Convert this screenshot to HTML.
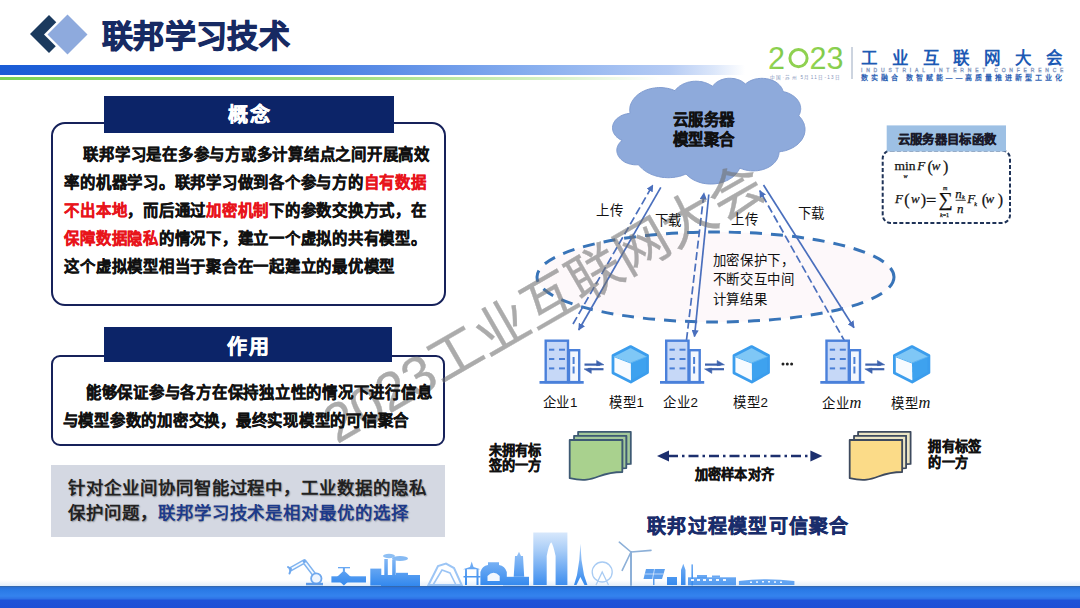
<!DOCTYPE html>
<html lang="zh-CN">
<head>
<meta charset="utf-8">
<style>
*{margin:0;padding:0;box-sizing:border-box}
html,body{width:1080px;height:608px;overflow:hidden;background:#fff}
body{position:relative;font-family:"Liberation Sans",sans-serif;color:#111}
.a{position:absolute}
.title,.txt,.gtxt,.lbl,.blbl{z-index:10}
.title{left:102px;top:17px;letter-spacing:0.35px;font-size:31px;font-weight:900;color:#172a63;-webkit-text-stroke:1px #172a63;line-height:40px;white-space:nowrap}
.bluebar{left:0;top:65px;width:760px;height:9.5px;background:linear-gradient(90deg,#1a5cd6 0%,#2a68dc 25%,#5a8ce6 50%,#8ab0ef 71%,#b5cbf4 88%,#dce7fa 94%,rgba(255,255,255,0) 98%)}
.greenbar{left:0;top:77px;width:680px;height:3px;background:linear-gradient(90deg,#7ad356 0%,#9ede7c 50%,#d8f2c8 82%,rgba(255,255,255,0) 97%)}
.hdr{background:#0c2468;color:#fff;font-weight:700;-webkit-text-stroke:0.5px #fff;text-align:center;font-size:20px;letter-spacing:1.2px;text-indent:1.2px}
.box{border:2.3px solid #16215a;border-radius:14px;background:#fff}
.txt{font-size:15.4px;letter-spacing:0.75px;font-weight:700;-webkit-text-stroke:0.35px currentColor;line-height:28px;color:#111;white-space:nowrap}
.red{color:#e8141b;-webkit-text-stroke-color:#e8141b}
.gray{left:51px;top:465px;width:394px;height:72px;background:#d4d8e2}
.gtxt{font-size:17.4px;letter-spacing:0.95px;font-weight:700;text-shadow:0.8px 0.8px 1.2px rgba(0,0,0,0.28);line-height:25.5px;color:#222;white-space:nowrap}
.nav{color:#1d3a8a}
.lbl{font-size:13.4px;letter-spacing:0.7px;line-height:16px;white-space:nowrap;color:#111}
.blbl{font-size:13.2px;letter-spacing:0.3px;font-weight:700;-webkit-text-stroke:0.35px #111;line-height:16px;white-space:nowrap;color:#111}
</style>
</head>
<body>
<!-- header icon -->
<svg class="a" style="left:0;top:0" width="100" height="64" viewBox="0 0 100 64">
  <polygon points="30,34 49,15 68,34 49,53" fill="#1b3a5e"/>
  <polygon points="44,34.5 67.5,11 91,34.5 67.5,58" fill="#fff"/>
  <polygon points="47.5,34.5 67.5,14.5 87.5,34.5 67.5,54.5" fill="#8eaadd"/>
</svg>
<div class="a title">联邦学习技术</div>
<div class="a bluebar"></div>
<div class="a greenbar"></div>

<!-- 概念 -->
<div class="a box" style="left:51px;top:122px;width:394.5px;height:183.5px"></div>
<div class="a hdr" style="left:104px;top:95.5px;width:290px;height:37.5px;line-height:37.5px;padding-top:1.8px">概念</div>
<div class="a txt" style="left:64.4px;top:140.5px">
<div style="text-indent:19px">联邦学习是在多参与方或多计算结点之间开展高效</div>
<div>率的机器学习。联邦学习做到各个参与方的<span class="red">自有数据</span></div>
<div><span class="red">不出本地</span>，而后通过<span class="red">加密机制</span>下的参数交换方式，在</div>
<div><span class="red">保障数据隐私</span>的情况下，建立一个虚拟的共有模型。</div>
<div>这个虚拟模型相当于聚合在一起建立的最优模型</div>
</div>

<!-- 作用 -->
<div class="a box" style="left:51px;top:354.5px;width:394px;height:91px;border-radius:9px"></div>
<div class="a hdr" style="left:104px;top:326.5px;width:288px;height:35.5px;line-height:35.5px;padding-top:3.5px">作用</div>
<div class="a txt" style="left:62.6px;top:379px">
<div style="text-indent:23.4px">能够保证参与各方在保持独立性的情况下进行信息</div>
<div>与模型参数的加密交换，最终实现模型的可信聚合</div>
</div>

<!-- gray box -->
<div class="a gray"></div>
<div class="a gtxt" style="left:68px;top:475.5px">
<div>针对企业间协同智能过程中，工业数据的隐私</div>
<div>保护问题，<span class="nav">联邦学习技术是相对最优的选择</span></div>
</div>

<svg class="a" style="left:0;top:0" width="1080" height="608" viewBox="0 0 1080 608">
<defs>
<marker id="ah" viewBox="0 0 10 10" refX="9" refY="5" markerWidth="4.2" markerHeight="4.2" orient="auto-start-reverse" markerUnits="strokeWidth"><path d="M0,0 L10,5 L0,10 z" fill="#4a6fbd"/></marker>
</defs>
<!-- ellipse -->
<ellipse cx="715.5" cy="277" rx="178.5" ry="45" fill="#fdf8fa" stroke="#3874b8" stroke-width="3" stroke-dasharray="12 9"/>
<!-- cloud -->
<path d="M630.0,113.1L629.9,112.2L629.8,111.3L629.7,110.4L629.7,109.5L629.8,108.6L629.9,107.7L630.0,106.8L630.2,105.9L630.5,105.0L630.8,104.1L631.2,103.2L631.6,102.3L632.1,101.4L632.6,100.4L633.3,99.5L634.0,98.6L634.8,97.6L635.6,96.7L636.6,95.8L637.7,94.8L638.9,93.9L640.1,93.1L641.5,92.2L643.1,91.4L644.7,90.6L646.4,89.9L648.3,89.3L650.2,88.8L652.3,88.3L654.4,88.0L656.5,87.7L658.7,87.6L661.0,87.6L663.1,87.7L665.3,88.0L667.4,88.3L669.5,88.8L671.4,89.3L673.2,90.0L675.0,90.7L675.4,90.1L675.8,89.6L676.3,89.1L676.8,88.5L677.3,88.0L677.9,87.5L678.5,86.9L679.2,86.4L679.9,85.9L680.7,85.4L681.5,84.9L682.4,84.4L683.3,84.0L684.2,83.6L685.2,83.2L686.3,82.8L687.4,82.4L688.5,82.1L689.7,81.9L690.9,81.7L692.1,81.5L693.3,81.3L694.6,81.3L695.9,81.2L697.1,81.3L698.4,81.3L699.6,81.5L700.9,81.6L702.1,81.8L703.2,82.1L704.4,82.4L705.5,82.7L706.5,83.1L707.5,83.5L708.5,83.9L709.4,84.4L710.3,84.9L711.1,85.3L711.9,85.8L712.6,86.3L712.9,85.9L713.3,85.4L713.7,84.9L714.2,84.4L714.6,83.9L715.2,83.4L715.7,82.9L716.3,82.5L717.0,82.0L717.7,81.6L718.5,81.1L719.3,80.7L720.1,80.3L721.0,79.9L722.0,79.6L722.9,79.3L724.0,79.0L725.0,78.8L726.1,78.6L727.2,78.4L728.4,78.3L729.5,78.3L730.7,78.3L731.8,78.4L733.0,78.5L734.1,78.6L735.2,78.8L736.2,79.1L737.2,79.4L738.2,79.7L739.2,80.0L740.0,80.4L740.9,80.8L741.7,81.2L742.4,81.7L743.1,82.1L743.7,82.6L744.3,83.1L744.9,83.5L745.4,84.0L746.2,83.4L747.0,82.8L747.9,82.2L748.8,81.6L749.9,81.1L751.0,80.5L752.1,80.1L753.4,79.6L754.7,79.2L756.1,78.9L757.5,78.7L759.0,78.5L760.4,78.4L761.9,78.3L763.4,78.4L764.9,78.5L766.4,78.7L767.8,78.9L769.2,79.3L770.5,79.6L771.7,80.1L772.9,80.6L774.0,81.1L775.0,81.6L776.0,82.2L776.9,82.8L777.7,83.4L778.4,84.0L779.1,84.7L779.7,85.3L780.3,85.9L780.8,86.6L781.2,87.2L781.6,87.9L782.0,88.5L782.3,89.1L782.6,89.7L782.8,90.4L783.0,91.0L783.2,91.6L784.6,91.9L786.0,92.3L787.3,92.7L788.5,93.2L789.7,93.7L790.7,94.3L791.8,94.9L792.7,95.5L793.6,96.1L794.4,96.7L795.2,97.4L795.9,98.0L796.5,98.6L797.1,99.3L797.6,100.0L798.0,100.6L798.5,101.3L798.9,101.9L799.2,102.5L799.5,103.2L799.8,103.8L800.0,104.5L800.2,105.1L800.3,105.7L800.5,106.3L800.6,107.0L800.6,107.6L800.7,108.2L800.7,108.8L800.7,109.5L800.6,110.1L800.5,110.7L800.4,111.3L800.3,111.9L800.1,112.6L799.9,113.2L799.7,113.8L799.4,114.5L799.1,115.1L798.8,115.8L799.7,116.8L800.6,117.7L801.3,118.7L802.0,119.7L802.6,120.7L803.1,121.7L803.6,122.7L804.0,123.6L804.3,124.6L804.5,125.5L804.7,126.5L804.9,127.4L805.0,128.4L805.0,129.3L805.0,130.3L804.9,131.2L804.8,132.1L804.6,133.1L804.4,134.0L804.1,135.0L803.7,136.0L803.3,136.9L802.8,137.9L802.3,138.9L801.6,139.9L800.9,140.9L800.1,141.8L799.2,142.8L798.2,143.8L797.0,144.8L795.8,145.7L794.4,146.7L792.9,147.6L791.3,148.4L789.5,149.2L787.7,149.9L785.7,150.6L783.6,151.1L781.4,151.5L779.1,151.8L779.1,152.5L779.0,153.2L778.9,153.9L778.8,154.7L778.6,155.4L778.4,156.1L778.2,156.8L777.9,157.5L777.6,158.2L777.2,159.0L776.8,159.7L776.3,160.4L775.8,161.2L775.2,161.9L774.5,162.7L773.8,163.4L773.0,164.1L772.1,164.9L771.2,165.6L770.2,166.3L769.1,166.9L767.9,167.6L766.6,168.2L765.3,168.7L763.8,169.3L762.3,169.7L760.7,170.1L759.1,170.4L757.4,170.7L755.7,170.8L754.0,170.9L752.2,170.9L750.5,170.8L748.8,170.6L747.1,170.3L745.5,170.0L744.0,169.6L742.5,169.1L741.1,168.6L739.7,168.0L739.4,168.9L738.9,169.7L738.5,170.6L737.9,171.4L737.3,172.3L736.6,173.2L735.9,174.1L735.1,174.9L734.2,175.8L733.2,176.7L732.1,177.5L730.9,178.3L729.6,179.1L728.3,179.9L726.8,180.6L725.2,181.3L723.5,182.0L721.8,182.5L719.9,183.0L718.0,183.4L716.0,183.7L714.0,183.9L711.9,184.0L709.9,184.0L707.8,183.9L705.8,183.7L703.8,183.4L701.9,183.0L700.1,182.5L698.3,181.9L696.6,181.3L695.1,180.6L693.6,179.9L692.2,179.1L691.0,178.3L689.8,177.4L688.7,176.6L687.7,175.7L686.8,174.9L686.0,174.0L684.8,174.5L683.6,175.0L682.3,175.4L681.0,175.9L679.6,176.3L678.2,176.6L676.7,176.9L675.3,177.1L673.8,177.4L672.2,177.5L670.7,177.6L669.2,177.7L667.6,177.7L666.1,177.6L664.5,177.5L663.0,177.4L661.5,177.2L660.0,176.9L658.6,176.6L657.2,176.3L655.8,175.9L654.4,175.5L653.2,175.0L651.9,174.6L650.7,174.1L649.6,173.5L648.5,173.0L647.4,172.4L646.4,171.8L645.5,171.2L644.6,170.6L643.7,169.9L642.9,169.3L642.2,168.6L641.5,168.0L640.8,167.3L640.2,166.7L639.6,166.0L639.0,165.4L638.5,164.7L636.8,164.8L635.1,164.8L633.5,164.7L631.8,164.4L630.3,164.1L628.8,163.7L627.4,163.2L626.1,162.7L624.8,162.1L623.7,161.4L622.8,160.8L621.9,160.1L621.1,159.4L620.3,158.6L619.7,157.9L619.2,157.2L618.7,156.5L618.3,155.8L617.9,155.1L617.6,154.4L617.4,153.7L617.2,153.0L617.0,152.3L616.9,151.6L616.8,150.9L616.8,150.3L616.8,149.6L616.9,148.9L617.0,148.2L617.2,147.5L617.4,146.8L617.7,146.1L618.0,145.4L618.3,144.7L618.8,144.0L619.3,143.3L619.9,142.6L620.5,141.9L621.2,141.1L622.1,140.4L620.8,139.8L619.6,139.2L618.6,138.5L617.6,137.8L616.8,137.0L616.0,136.3L615.4,135.5L614.8,134.8L614.3,134.0L613.9,133.3L613.5,132.6L613.2,131.8L613.0,131.1L612.8,130.4L612.6,129.7L612.5,129.0L612.5,128.3L612.5,127.6L612.5,126.9L612.6,126.1L612.8,125.4L613.0,124.7L613.2,124.0L613.5,123.3L613.9,122.5L614.3,121.8L614.8,121.1L615.3,120.3L616.0,119.6L616.7,118.8L617.6,118.1L618.5,117.4L619.6,116.7L620.7,116.0L622.0,115.4L623.4,114.8L624.9,114.3L626.5,113.9L628.1,113.6L629.8,113.4Z" fill="#8eaadb" stroke="#7f9bd0" stroke-width="1"/>
<!-- arrows -->
<g stroke="#4a6fbd" stroke-width="1.7" fill="none">
<line x1="573" y1="324" x2="652.8" y2="185" stroke-dasharray="8 3.5" marker-end="url(#ah)"/>
<line x1="660.8" y1="187.3" x2="578.7" y2="330" marker-end="url(#ah)"/>
<line x1="686.5" y1="340" x2="704" y2="193" stroke-dasharray="8 3.5" marker-end="url(#ah)"/>
<line x1="708.8" y1="194.5" x2="694.5" y2="336.5" marker-end="url(#ah)"/>
<line x1="845.5" y1="342.7" x2="759.8" y2="190.7" stroke-dasharray="8 3.5" marker-end="url(#ah)"/>
<line x1="763.5" y1="185" x2="854" y2="327.7" marker-end="url(#ah)"/>
</g>
<g transform="translate(0,0)">
<rect x="545.7" y="340.7" width="22.3" height="41.4" fill="#c6d8f7" stroke="#4a80da" stroke-width="2.4"/>
<rect x="569" y="350.2" width="10.2" height="31.9" fill="#f3f7fe" stroke="#4a80da" stroke-width="2.4"/>
<line x1="539.5" y1="382.4" x2="583.7" y2="382.4" stroke="#4a80da" stroke-width="2.8"/>
<g stroke="#4a7fd6" stroke-width="2"><line x1="549" y1="349.7" x2="554.3" y2="349.7"/><line x1="559" y1="349.7" x2="565" y2="349.7"/>
<line x1="549" y1="359" x2="554.3" y2="359"/><line x1="559" y1="359" x2="565" y2="359"/>
<line x1="549" y1="368.4" x2="554.3" y2="368.4"/><line x1="559" y1="368.4" x2="565" y2="368.4"/>
<line x1="573.6" y1="357" x2="573.6" y2="364"/><line x1="573.6" y1="366.5" x2="573.6" y2="373.5"/></g>
<g fill="#3d62ad" stroke="#3d62ad"><line x1="584.5" y1="364.6" x2="600" y2="364.6" stroke-width="2.2"/><polygon points="596.6,360.4 604,364.8 596.6,365.7" stroke-width="0.5"/>
<line x1="588" y1="369.2" x2="603.5" y2="369.2" stroke-width="2.2"/><polygon points="591.3,373.4 584,368.9 591.3,368.1" stroke-width="0.5"/></g>
</g><g transform="translate(120.5,0)">
<rect x="545.7" y="340.7" width="22.3" height="41.4" fill="#c6d8f7" stroke="#4a80da" stroke-width="2.4"/>
<rect x="569" y="350.2" width="10.2" height="31.9" fill="#f3f7fe" stroke="#4a80da" stroke-width="2.4"/>
<line x1="539.5" y1="382.4" x2="583.7" y2="382.4" stroke="#4a80da" stroke-width="2.8"/>
<g stroke="#4a7fd6" stroke-width="2"><line x1="549" y1="349.7" x2="554.3" y2="349.7"/><line x1="559" y1="349.7" x2="565" y2="349.7"/>
<line x1="549" y1="359" x2="554.3" y2="359"/><line x1="559" y1="359" x2="565" y2="359"/>
<line x1="549" y1="368.4" x2="554.3" y2="368.4"/><line x1="559" y1="368.4" x2="565" y2="368.4"/>
<line x1="573.6" y1="357" x2="573.6" y2="364"/><line x1="573.6" y1="366.5" x2="573.6" y2="373.5"/></g>
<g fill="#3d62ad" stroke="#3d62ad"><line x1="584.5" y1="364.6" x2="600" y2="364.6" stroke-width="2.2"/><polygon points="596.6,360.4 604,364.8 596.6,365.7" stroke-width="0.5"/>
<line x1="588" y1="369.2" x2="603.5" y2="369.2" stroke-width="2.2"/><polygon points="591.3,373.4 584,368.9 591.3,368.1" stroke-width="0.5"/></g>
</g><g transform="translate(280.8,0)">
<rect x="545.7" y="340.7" width="22.3" height="41.4" fill="#c6d8f7" stroke="#4a80da" stroke-width="2.4"/>
<rect x="569" y="350.2" width="10.2" height="31.9" fill="#f3f7fe" stroke="#4a80da" stroke-width="2.4"/>
<line x1="539.5" y1="382.4" x2="583.7" y2="382.4" stroke="#4a80da" stroke-width="2.8"/>
<g stroke="#4a7fd6" stroke-width="2"><line x1="549" y1="349.7" x2="554.3" y2="349.7"/><line x1="559" y1="349.7" x2="565" y2="349.7"/>
<line x1="549" y1="359" x2="554.3" y2="359"/><line x1="559" y1="359" x2="565" y2="359"/>
<line x1="549" y1="368.4" x2="554.3" y2="368.4"/><line x1="559" y1="368.4" x2="565" y2="368.4"/>
<line x1="573.6" y1="357" x2="573.6" y2="364"/><line x1="573.6" y1="366.5" x2="573.6" y2="373.5"/></g>
<g fill="#3d62ad" stroke="#3d62ad"><line x1="584.5" y1="364.6" x2="600" y2="364.6" stroke-width="2.2"/><polygon points="596.6,360.4 604,364.8 596.6,365.7" stroke-width="0.5"/>
<line x1="588" y1="369.2" x2="603.5" y2="369.2" stroke-width="2.2"/><polygon points="591.3,373.4 584,368.9 591.3,368.1" stroke-width="0.5"/></g>
</g>
<g transform="translate(0,0)">
<polygon points="630.6,347 647.4,356 630.6,363 613,356" fill="#7fc7f6"/>
<polygon points="630.6,363 647.4,356 647.4,372.4 630.8,381.8" fill="#3ea2ef"/>
<polygon points="613,356 630.6,363 630.8,381.8 613,372.6" fill="#f7fbff"/>
<polygon points="630.6,346.6 647.5,355.6 647.5,372.6 630.8,382 613,373 613,355.6" fill="none" stroke="#3b9ded" stroke-width="2.8" stroke-linejoin="round"/>
<polyline points="613.5,356.5 630.4,363 647,356.5" fill="none" stroke="#5ab2f2" stroke-width="1"/>
</g><g transform="translate(121,0)">
<polygon points="630.6,347 647.4,356 630.6,363 613,356" fill="#7fc7f6"/>
<polygon points="630.6,363 647.4,356 647.4,372.4 630.8,381.8" fill="#3ea2ef"/>
<polygon points="613,356 630.6,363 630.8,381.8 613,372.6" fill="#f7fbff"/>
<polygon points="630.6,346.6 647.5,355.6 647.5,372.6 630.8,382 613,373 613,355.6" fill="none" stroke="#3b9ded" stroke-width="2.8" stroke-linejoin="round"/>
<polyline points="613.5,356.5 630.4,363 647,356.5" fill="none" stroke="#5ab2f2" stroke-width="1"/>
</g><g transform="translate(281.4,0)">
<polygon points="630.6,347 647.4,356 630.6,363 613,356" fill="#7fc7f6"/>
<polygon points="630.6,363 647.4,356 647.4,372.4 630.8,381.8" fill="#3ea2ef"/>
<polygon points="613,356 630.6,363 630.8,381.8 613,372.6" fill="#f7fbff"/>
<polygon points="630.6,346.6 647.5,355.6 647.5,372.6 630.8,382 613,373 613,355.6" fill="none" stroke="#3b9ded" stroke-width="2.8" stroke-linejoin="round"/>
<polyline points="613.5,356.5 630.4,363 647,356.5" fill="none" stroke="#5ab2f2" stroke-width="1"/>
</g>
<!-- docs -->
<g transform="translate(569.7,431.8) scale(0.002828703703703704,0.0022314814814814814)" stroke="#3e5a74" stroke-width="1.8" stroke-linejoin="round">
<path vector-effect="non-scaling-stroke" d="M2972,1815 L2972,0 L21600,0 L21600,14392 C20800,14392 20000,14467 20000,14467 L20000,1815 Z" fill="#a3c99a"/>
<path vector-effect="non-scaling-stroke" d="M1532,3675 L1532,1815 L20000,1815 L20000,16252 C19298,16252 18595,16352 18595,16352 L18595,3675 Z" fill="#a3c99a"/>
<path vector-effect="non-scaling-stroke" d="M0,20782 C9298,23542 9298,18022 18595,18022 L18595,3675 L0,3675 Z" fill="#a9d18e"/>
</g>
<g transform="translate(849.7,431.8) scale(0.0028194444444444443,0.0022314814814814814)" stroke="#3e4a5e" stroke-width="1.8" stroke-linejoin="round">
<path vector-effect="non-scaling-stroke" d="M2972,1815 L2972,0 L21600,0 L21600,14392 C20800,14392 20000,14467 20000,14467 L20000,1815 Z" fill="#ece5c4"/>
<path vector-effect="non-scaling-stroke" d="M1532,3675 L1532,1815 L20000,1815 L20000,16252 C19298,16252 18595,16352 18595,16352 L18595,3675 Z" fill="#ece5c4"/>
<path vector-effect="non-scaling-stroke" d="M0,20782 C9298,23542 9298,18022 18595,18022 L18595,3675 L0,3675 Z" fill="#fbdb88"/>
</g>
<!-- dash-dot arrow -->
<line x1="668" y1="456" x2="811" y2="456" stroke="#1c2f6e" stroke-width="2.6" stroke-dasharray="10 4 2.5 4"/>
<polygon points="657,456 669,450.5 669,461.5" fill="#1c2f6e"/>
<polygon points="822.4,456 810.4,450.5 810.4,461.5" fill="#1c2f6e"/>
<!-- objective box -->
<rect x="882.7" y="150.5" width="127.3" height="72.5" rx="8" fill="#fff" stroke="#1f3358" stroke-width="2" stroke-dasharray="4 2.2"/>
<rect x="886.7" y="125.4" width="119.3" height="26.1" fill="#9dc0e4"/>
</svg>
<!-- diagram text -->
<div class="a" style="left:673px;top:110px;font-size:15.4px;letter-spacing:0.3px;font-weight:700;-webkit-text-stroke:0.45px #111;line-height:19.8px;color:#111;white-space:nowrap;z-index:10">云服务器<br>模型聚合</div>
<div class="a lbl" style="left:596px;top:203px">上传</div>
<div class="a lbl" style="left:654.5px;top:213px">下载</div>
<div class="a lbl" style="left:731px;top:212px">上传</div>
<div class="a lbl" style="left:797.5px;top:205.5px">下载</div>
<div class="a lbl" style="left:712.5px;top:251.2px;line-height:19.2px">加密保护下，<br>不断交互中间<br>计算结果</div>
<div class="a lbl" style="left:542.5px;top:395px">企业1</div>
<div class="a lbl" style="left:609px;top:395px">模型1</div>
<div class="a lbl" style="left:663px;top:395px">企业2</div>
<div class="a lbl" style="left:733px;top:395px">模型2</div>
<div class="a lbl" style="left:822px;top:395px">企业<i style="font-family:'Liberation Serif',serif;font-size:16.5px;letter-spacing:0">m</i></div>
<div class="a lbl" style="left:891px;top:395px">模型<i style="font-family:'Liberation Serif',serif;font-size:16.5px;letter-spacing:0">m</i></div>
<svg class="a" style="left:780px;top:360px" width="16" height="8"><g fill="#222"><circle cx="3" cy="4" r="1.5"/><circle cx="7.3" cy="4" r="1.5"/><circle cx="11.6" cy="4" r="1.5"/></g></svg>
<div class="a blbl" style="left:488.5px;top:442.5px;line-height:15.8px">未拥有标<br>签的一方</div>
<div class="a blbl" style="left:928.3px;top:438.5px;line-height:16.3px">拥有标签<br>的一方</div>
<div class="a blbl" style="left:694.5px;top:467px">加密样本对齐</div>
<div class="a" style="left:647px;top:511px;font-size:19px;font-weight:700;letter-spacing:1.25px;-webkit-text-stroke:0.5px #1a2d6b;color:#1a2d6b;white-space:nowrap">联邦过程模型可信聚合</div>
<div class="a" style="left:897.5px;top:131.5px;font-size:12.3px;letter-spacing:0.35px;font-weight:700;-webkit-text-stroke:0.35px #1a1a2a;color:#1a1a2a;white-space:nowrap;line-height:16px">云服务器目标函数</div>


<!-- logo -->
<svg class="a" style="left:760px;top:40px" width="320" height="45" viewBox="760 40 320 45">
<defs><linearGradient id="lg" x1="0" y1="0" x2="1" y2="0"><stop offset="0" stop-color="#98d654"/><stop offset="1" stop-color="#7cc84a"/></linearGradient></defs>
<g fill="url(#lg)" font-family="Liberation Sans" font-size="30.5">
<text x="768" y="69">2</text>
<text x="809.5" y="69">2</text>
<text x="826.5" y="69">3</text>
</g>
<circle cx="798.5" cy="58.2" r="8.6" fill="none" stroke="#8fd150" stroke-width="3"/>
<line x1="852" y1="47" x2="852" y2="79" stroke="#9aa9c0" stroke-width="1"/>
<text x="861" y="64" font-size="16.5" font-weight="700" fill="#1d5ab4" letter-spacing="13.8">工业互联网大会</text>
<text x="861" y="72.3" font-size="5" fill="none" stroke="#7e93bb" stroke-width="0.4" letter-spacing="3.8">INDUSTRIAL INTERNET CONFERENCE</text>
<text x="861" y="80" font-size="7" font-weight="700" fill="#2d5fb3" letter-spacing="2.95">数实融合 数智赋能——高质量推进新型工业化</text>
<text x="770" y="79" font-size="4.6" fill="#7f93b8" letter-spacing="1.3">中国·苏州 5月11日-13日</text>
</svg>

<!-- formulas -->
<svg class="a" style="left:880px;top:150px" width="135" height="75" viewBox="880 150 135 75" font-family="Liberation Serif" fill="#111" stroke="#111" stroke-width="0.25">
<text x="894.5" y="170" font-size="13.5">min</text>
<text x="903.5" y="177.5" font-size="6" font-style="italic">w</text>
<text x="917.3" y="170" font-size="13" font-style="italic">F</text>
<text x="927.5" y="172" font-size="16" transform="scale(1,1)">(</text>
<text x="931.8" y="170" font-size="13" font-style="italic">w</text>
<text x="943" y="172" font-size="16">)</text>
<text x="895" y="203" font-size="13" font-style="italic">F</text>
<text x="904.2" y="205" font-size="16">(</text>
<text x="911" y="203" font-size="13" font-style="italic">w</text>
<text x="920.8" y="205" font-size="16">)</text>
<text x="926" y="206" font-size="17" transform="translate(926 0) scale(1.08 1) translate(-926 0)">=</text>
<text x="938.6" y="205.5" font-size="20">∑</text>
<text x="943" y="190" font-size="6" font-style="italic">m</text>
<text x="940" y="216.5" font-size="6"><tspan font-style="italic">k</tspan>=1</text>
<text x="955.3" y="197.5" font-size="13" font-style="italic">n</text>
<text x="962" y="199" font-size="6" font-style="italic">k</text>
<line x1="955.6" y1="200.3" x2="965.8" y2="200.3" stroke="#111" stroke-width="0.8"/>
<text x="957" y="213" font-size="13" font-style="italic">n</text>
<text x="967.3" y="203" font-size="13" font-style="italic">F</text>
<text x="974.2" y="206" font-size="6" font-style="italic">k</text>
<text x="981.8" y="205" font-size="16">(</text>
<text x="985.5" y="203" font-size="13" font-style="italic">w</text>
<text x="997.8" y="205" font-size="16">)</text>
</svg>

<!-- bottom band -->
<div class="a" style="left:0;top:580px;width:1080px;height:6px;background:linear-gradient(180deg,rgba(225,236,250,0) 0,#e2edf9 100%)"></div>
<div class="a" style="left:0;top:585.5px;width:1080px;height:22.5px;background:linear-gradient(180deg,#36659f 0,#2a70d6 1.5px,#2a7ae6 4px,#3483ee 10px,#2f74e6 12.5px,#1e52d8 14.5px,#1d4fd6 100%)"></div>
<!-- skyline -->
<svg class="a" style="left:280px;top:528px" width="520" height="60" viewBox="280 528 520 60">
<defs>
<linearGradient id="sk" x1="0" y1="0" x2="0" y2="1"><stop offset="0" stop-color="#b9d8fa"/><stop offset="0.45" stop-color="#6faaf2"/><stop offset="1" stop-color="#2f82ee"/></linearGradient>
<linearGradient id="sk2" gradientUnits="userSpaceOnUse" x1="0" y1="550" x2="0" y2="586"><stop offset="0" stop-color="#9cc6f7"/><stop offset="1" stop-color="#3288ee"/></linearGradient>
<linearGradient id="sk3" gradientUnits="userSpaceOnUse" x1="0" y1="531" x2="0" y2="586"><stop offset="0" stop-color="#dbeafc"/><stop offset="0.35" stop-color="#a9cdf7"/><stop offset="1" stop-color="#3a8cef"/></linearGradient>
</defs>
<!-- robot arm -->
<g fill="none" stroke-linecap="round" stroke-linejoin="round">
<path d="M316.8,578 L304.3,561.5 L291,569" stroke="#7fb3ef" stroke-width="4.6"/>
<path d="M316.8,578 L304.3,561.5 L291,569" stroke="#f4f9ff" stroke-width="1.8"/>
<path d="M291,569 L288,567 M291,569 L289.5,573.5" stroke="#6fa8ee" stroke-width="2"/>
<circle cx="316.3" cy="578.5" r="5.2" fill="#eef5fe" stroke="#6fa8ee" stroke-width="1.8"/>
<circle cx="304.3" cy="561.5" r="1.6" fill="#6fa8ee"/>
</g>
<rect x="306" y="582.8" width="17" height="2.5" fill="#5d9be9"/>
<!-- valve -->
<g fill="url(#sk2)">
<rect x="331.4" y="576.3" width="34.6" height="6.2"/>
<polygon points="343.9,570.5 352,578 343.9,585.5 335.8,578"/>
<rect x="342.9" y="567.5" width="2" height="4"/>
<rect x="338" y="567" width="12" height="1.3"/>
<!-- factory -->
<rect x="370.3" y="568.6" width="11" height="17"/>
<rect x="384.3" y="559" width="3.5" height="27"/>
<rect x="392.2" y="559.5" width="3.5" height="26.5"/>
<rect x="381" y="575" width="39" height="11"/>
<rect x="396" y="572.8" width="12" height="3"/>
<ellipse cx="389" cy="556" rx="6" ry="2.2" fill="#8fc0f4"/>
<ellipse cx="400" cy="558.5" rx="8" ry="2.6" fill="#86baf3"/>
<!-- lattice arch -->
<path d="M428.5,585 L438,566 L446,563.6 L454,568 L461.7,585 Z" fill="none" stroke="#9cc5f5" stroke-width="2"/>
<path d="M433,585 L442,570 L450,573 L456,585" fill="none" stroke="#9cc5f5" stroke-width="1.6"/>
<!-- pavilion -->
<polygon points="471.7,561.5 473.5,567 480.4,569.2 463,569.2 470,567"/>
<rect x="465" y="569" width="2" height="16"/><rect x="476.5" y="569" width="2" height="16"/>
<rect x="463.5" y="576" width="17" height="1.5"/>
<!-- dome building -->
<path d="M480.4,585 L480.4,572 Q482,566 488,565 L488,562.2 L499,562.2 L499,565 Q505,566 506.8,572 L506.8,585 Z"/>
<rect x="503" y="576.8" width="26" height="8.5"/>
<path d="M487.5,581 L487.5,576 Q493.6,569.5 499.7,576 L499.7,581 Z" fill="#f2f7fe"/>
<!-- pagoda -->
<polygon points="519,551.8 521,556 523,556 524.2,576.8 513.7,576.8 515,556 517,556"/>
<!-- gate of orient -->
<path fill="url(#sk3)" d="M533.3,585 L533.3,532.6 L567.4,532.6 L567.4,585 L555.6,585 L555.6,556 Q553,544 551.2,542.2 Q549,544 546.7,556 L546.7,585 Z"/>
<!-- tower -->
<path d="M580.4,543.7 L581.5,560 L584,575 L587.4,585 L584.5,585 L580.4,577 L576.5,585 L574,585 L577,575 L579.3,560 Z"/>
</g>
<!-- ferris wheel -->
<g fill="none" stroke="#a8cbf3" stroke-width="1.3">
<circle cx="602.2" cy="572" r="10"/>
<path d="M596,585 L602.2,572 L608.5,585"/>
</g>
<!-- wind turbine -->
<g stroke="#8db0d8" stroke-width="1.6" stroke-linecap="round" fill="none">
<line x1="631" y1="552" x2="631" y2="585" stroke-width="2"/>
<line x1="631" y1="552" x2="619.3" y2="542.2"/>
<line x1="631" y1="552" x2="651" y2="550.4"/>
<line x1="631" y1="552" x2="622.2" y2="570.4"/>
</g>
<!-- solar -->
<polygon points="646,569 665,569 662,579 643.5,579" fill="#5c9fee"/>
<g stroke="#e8f2ff" stroke-width="0.7"><line x1="654.5" y1="569" x2="652.5" y2="579"/><line x1="645" y1="574" x2="663.5" y2="574"/></g>
<rect x="653" y="579" width="1.5" height="6" fill="#5c9fee"/>
<!-- small buildings -->
<g fill="url(#sk2)">
<polygon points="683.3,563.7 685.5,570 685.5,585 681,585 681,570"/>
<rect x="691.4" y="564.4" width="1.6" height="21"/>
<rect x="667" y="577" width="10" height="8"/>
<rect x="688" y="577.3" width="48" height="8" opacity="0.85"/>
<rect x="697" y="575" width="10" height="3" opacity="0.85"/>
<rect x="712" y="575.5" width="8" height="2" opacity="0.85"/>
<!-- bridge -->
<path opacity="0.8" d="M738.9,585 L738.9,581 Q766,577.5 794.4,581 L794.4,585 Z"/>
</g>
<g fill="#eef5fe"><rect x="691" y="579" width="3" height="2"/><rect x="697" y="579" width="3" height="2"/><rect x="703" y="579" width="3" height="2"/><rect x="709" y="579" width="3" height="2"/><rect x="716" y="579" width="3" height="2"/><rect x="723" y="579" width="3" height="2"/>
<rect x="750" y="581.5" width="2" height="1.5"/><rect x="756" y="581.3" width="2" height="1.5"/><rect x="762" y="581" width="2" height="1.5"/><rect x="768" y="581" width="2" height="1.5"/><rect x="774" y="581.3" width="2" height="1.5"/><rect x="780" y="581.5" width="2" height="1.5"/></g>
</svg>

<!-- watermark -->
<div class="a" style="left:345px;top:387.5px;font-size:54px;font-weight:400;z-index:5;color:#707070;opacity:0.58;-webkit-text-stroke:0.35px #707070;white-space:nowrap;transform:rotate(-30deg);transform-origin:0 100%;line-height:70px">2023工业互联网大会</div>

</body>
</html>
